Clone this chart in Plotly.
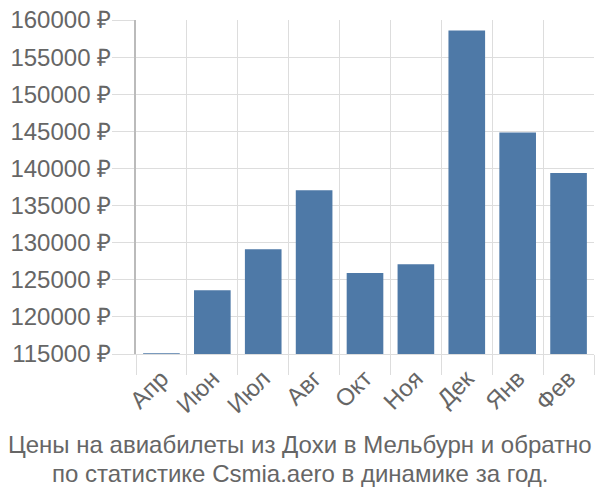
import plotly.graph_objects as go

months = ["Апр", "Июн", "Июл", "Авг", "Окт", "Ноя", "Дек", "Янв", "Фев"]
prices = [115100, 123600, 129100, 137050, 125900, 127100, 158600, 144850, 139400]
title_lines = ["Цены на авиабилеты из Дохи в Мельбурн и обратно",
               "по статистике Csmia.aero в динамике за год."]

fig = go.Figure(go.Bar(x=months, y=prices, marker=dict(color="#4e79a7", line=dict(width=0)),
                       hoverinfo="skip"))

font = dict(family="Liberation Sans, Arial, sans-serif", size=24, color="#666666")

fig.update_layout(
    width=600, height=500,
    margin=dict(l=136, r=6, t=14, b=146),
    paper_bgcolor="white", plot_bgcolor="white",
    bargap=0.28,
    showlegend=False,
    font=font,
    xaxis=dict(type="category", tickson="boundaries", showgrid=True, gridcolor="#dddddd",
               gridwidth=1, ticks="outside", ticklen=20, tickcolor="#dddddd",
               tickangle=-45, tickfont=font, showline=True, linecolor="#dddddd", linewidth=1,
               ticklabelstandoff=0),
    yaxis=dict(range=[115000, 160000], dtick=5000, tick0=115000, tickformat="d",
               ticksuffix=" ₽", showgrid=True, gridcolor="#dddddd", gridwidth=1,
               ticks="outside", ticklen=22, tickcolor="#dddddd", tickfont=font,
               showline=True, linecolor="#bbbbbb", linewidth=2, zeroline=False,
               ticklabelstandoff=-4),
    annotations=[dict(text=t, xref="paper", yref="paper",
                      x=(300 - 136) / 458, y=-(yc - 354) / 340, xanchor="center",
                      yanchor="middle", showarrow=False, font=font, align="center")
                 for t, yc in zip(title_lines, [446, 476])],
)

fig.write_html("out.html")
